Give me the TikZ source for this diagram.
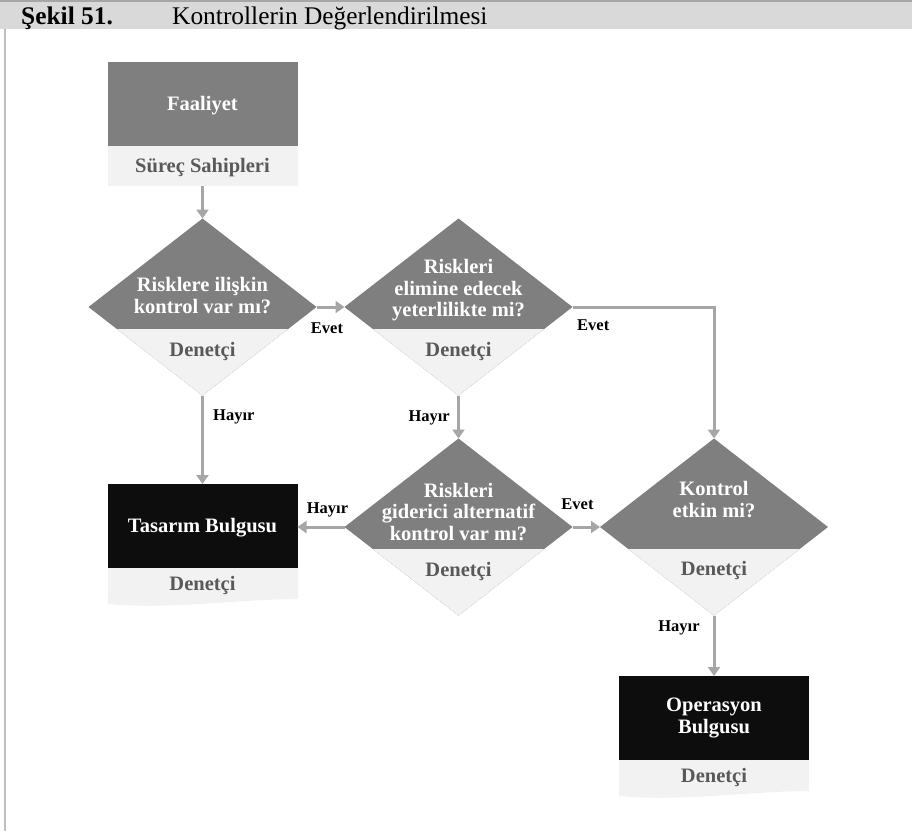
\documentclass[tikz,border=0pt]{standalone}
\usepackage{fontspec}
\setmainfont{Liberation Serif}
\usetikzlibrary{arrows.meta,shapes.geometric}

\definecolor{shade}{HTML}{7F7F7F}
\definecolor{pale}{HTML}{F2F2F2}
\definecolor{ink}{HTML}{0D0D0D}
\definecolor{wire}{HTML}{A6A6A6}
\definecolor{role}{HTML}{595959}
\definecolor{band}{HTML}{D9D9D9}
\definecolor{bandtop}{HTML}{A6A6A6}
\definecolor{rulegray}{HTML}{BFBFBF}

\begin{document}
\begin{tikzpicture}[x=1pt,y=-1pt,
  bigbold/.style={font=\fontsize{20.5}{21.5}\selectfont\bfseries},
  headbox/.style={rectangle, inner sep=0pt, outer sep=0pt, minimum width=190pt,
    minimum height=84pt, text=white, bigbold},
  oneline/.style={text height=13.5pt, text depth=0pt},
  rolebox/.style={rectangle, inner sep=0pt, outer sep=0pt, minimum width=190pt,
    fill=pale, text=role, bigbold, oneline},
  decision/.style={diamond, inner sep=0pt, outer sep=0pt, minimum width=228pt,
    minimum height=177pt, fill=shade,
    path picture={\fill[pale] ([yshift=-22pt]path picture bounding box.west)
      rectangle (path picture bounding box.south east);}},
  % placed by the baseline of the last line
  question/.style={inner sep=0pt, align=center, text=white, bigbold, anchor=base},
  roletxt/.style={inner sep=0pt, text=role, bigbold, anchor=base},
  answer/.style={inner sep=0pt, font=\fontsize{16.5}{18}\selectfont\bfseries, anchor=base},
  conn/.style={draw=wire, line width=3pt, -{Triangle[width=12pt,length=9pt]}},
]
\useasboundingbox (0,0) rectangle (912,831);

% caption band and left rule
\fill[band] (0,0) rectangle (912,29);
\fill[bandtop] (0,0) rectangle (912,2);
\draw[rulegray, line width=1.5pt] (5,29) -- (5,831);
\node[inner sep=0pt, anchor=base west, font=\fontsize{25.4}{28}\selectfont\bfseries]
  (fignum) at (21,24) {Şekil 51.};
\node[inner sep=0pt, anchor=base west, font=\fontsize{25.4}{28}\selectfont]
  (figtitle) at (172,24) {Kontrollerin Değerlendirilmesi};

% start box
\node[headbox, fill=shade, oneline] (fa) at (202.5,104) {Faaliyet};
\node[rolebox, minimum height=40pt] (fs) at (202.5,166) {Süreç Sahipleri};

% decisions
\node[decision] (d1) at (202.5,307) {};
\node[decision] (d2) at (458.5,307) {};
\node[decision] (d3) at (458.5,527) {};
\node[decision] (d4) at (714,527) {};

\node[question] (d1q) at (202.5,313) {Risklere ilişkin\\kontrol var mı?};
\node[question] (d2q) at (458.5,316.5) {Riskleri\\elimine edecek\\yeterlilikte mi?};
\node[question] (d3q) at (458.5,540) {Riskleri\\giderici alternatif\\kontrol var mı?};
\node[question] (d4q) at (714,517) {Kontrol\\etkin mi?};

\node[roletxt] (d1r) at (202.5,356.5) {Denetçi};
\node[roletxt] (d2r) at (458.5,356) {Denetçi};
\node[roletxt] (d3r) at (458.5,576.5) {Denetçi};
\node[roletxt] (d4r) at (714,575.5) {Denetçi};

% findings
\node[headbox, fill=ink, oneline] (tb) at (202.5,526) {Tasarım Bulgusu};
\node[rolebox, minimum height=31pt] (tl) at (202.5,583.5) {Denetçi};
\fill[pale] (tl.south east) .. controls +(-57,0) and +(63,6) .. ([yshift=-5pt]tl.south west)
  -- (tl.south west) -- cycle;

\node[headbox, fill=ink, align=center] (ob) at (714,718) {Operasyon\\Bulgusu};
\node[rolebox, minimum height=31pt] (ol) at (714,775.5) {Denetçi};
\fill[pale] (ol.south east) .. controls +(-57,0) and +(63,6) .. ([yshift=-5pt]ol.south west)
  -- (ol.south west) -- cycle;

% connectors
\draw[conn] (fs.south) -- (d1.north);
\draw[conn] (d1.east) -- (d2.west);
\draw[conn] (d1.south) -- (tb.north);
\draw[conn] (d2.south) -- (d3.north);
\draw[conn] (d2.east) -| (d4.north);
\draw[conn] (d3.west) -- (d3.west -| tb.east);
\draw[conn] (d3.east) -- (d4.west);
\draw[conn] (d4.south) -- (ob.north);

% answers
\node[answer] (a1) at (327,333) {Evet};
\node[answer, anchor=base west] (a2) at (213,420) {Hayır};
\node[answer, anchor=base east] (a3) at (450,421) {Hayır};
\node[answer, anchor=base west] (a4) at (577,330) {Evet};
\node[answer] (a5) at (327.5,513) {Hayır};
\node[answer] (a6) at (577.5,509) {Evet};
\node[answer] (a7) at (679,631.5) {Hayır};
\end{tikzpicture}
\end{document}
